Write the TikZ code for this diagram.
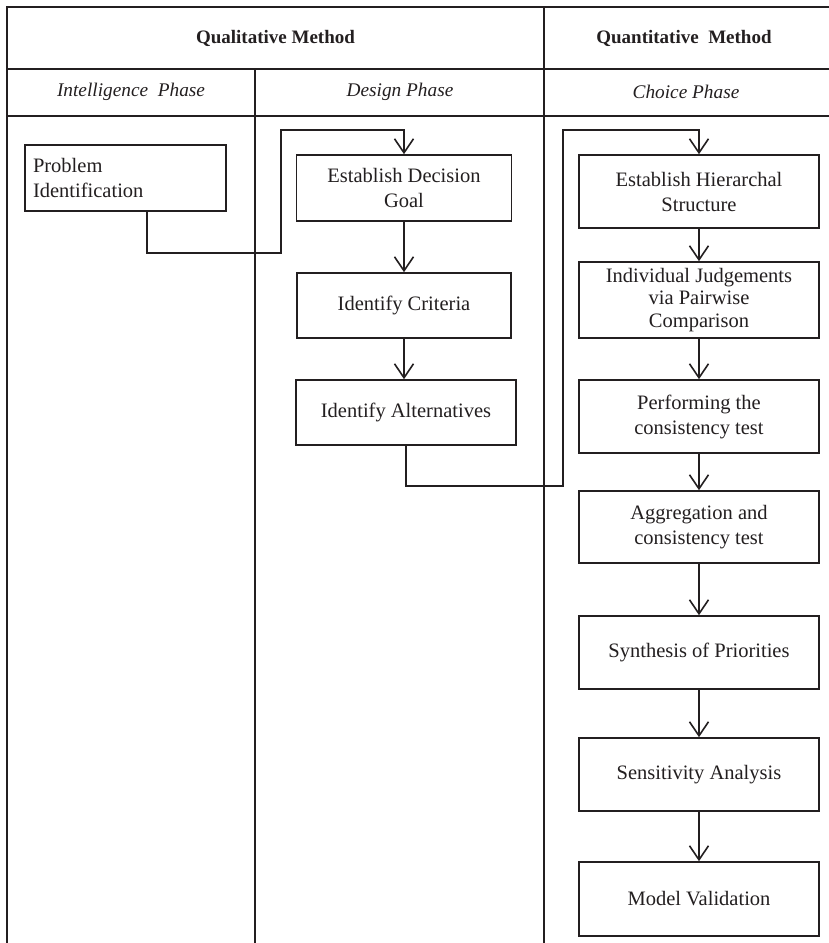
\documentclass[tikz,border=0pt]{standalone}
\usepackage{fontspec}
\setmainfont{Liberation Serif}
\usetikzlibrary{arrows.meta,calc}
\definecolor{ink}{RGB}{35,31,32}
\begin{document}
\begin{tikzpicture}[x=1pt,y=-1pt,
  tbl/.style={line width=2.2pt, draw=ink},
  box/.style={draw=ink, line width=1.6pt, inner sep=0pt, align=center, text=ink,
              font=\fontsize{20.5}{25}\selectfont},
  hdr/.style={text=ink, font=\bfseries\fontsize{19}{22}\selectfont},
  phase/.style={text=ink, font=\itshape\fontsize{19.3}{23}\selectfont},
  conn/.style={line width=1.6pt, draw=ink},
  arr/.style={conn, -{Straight Barb[length=14pt,width=19pt,line width=1.6pt]}},
]
\useasboundingbox (0,0) rectangle (829,943);
\fill[white] (0,0) rectangle (829,943);

% table
\draw[tbl] (829,7) -- (7,7) -- (7,943);
\draw[tbl] (7,69) -- (829,69);
\draw[tbl] (7,116) -- (829,116);
\draw[tbl] (544,7) -- (544,943);
\draw[tbl] (255,69) -- (255,943);

\node[hdr] (hq) at (275.5,38) {Qualitative Method};
\node[hdr] (hn) at (684,38) {Quantitative\ \ Method};
\node[phase] (pi) at (131,92) {Intelligence\ \ Phase};
\node[phase] (pd) at (400,92) {Design Phase};
\node[phase] (pc) at (686,92) {Choice Phase};

% intelligence
\node[box, minimum width=201pt, minimum height=66pt, align=left,
      text width=185pt, inner xsep=8pt] (prob) at (125.5,178)
  {Problem\\Identification};

% design
\node[box, minimum width=215pt, minimum height=66pt] (goal) at (404,188)
  {Establish Decision\\Goal};
\node[box, minimum width=214pt, minimum height=65pt] (crit) at (404,305.5)
  {Identify Criteria};
\node[box, minimum width=220pt, minimum height=65pt] (alt) at (406,412.5)
  {Identify Alternatives};

% choice
\node[box, minimum width=240pt, minimum height=73pt] (hier) at (699,191.5)
  {Establish Hierarchal\\Structure};
\node[box, minimum width=240pt, minimum height=76pt,
      font=\fontsize{20.5}{22.5}\selectfont] (indiv) at (699,300)
  {Individual Judgements\\via Pairwise\\Comparison};
\node[box, minimum width=240pt, minimum height=73pt] (perf) at (699,416.5)
  {Performing the\\consistency test};
\node[box, minimum width=240pt, minimum height=72pt] (aggr) at (699,527)
  {Aggregation and\\consistency test};
\node[box, minimum width=240pt, minimum height=73pt] (synth) at (699,652.5)
  {Synthesis of Priorities};
\node[box, minimum width=240pt, minimum height=73pt] (sens) at (699,774.5)
  {Sensitivity Analysis};
\node[box, minimum width=240pt, minimum height=74pt] (model) at (699,899)
  {Model Validation};

% connectors
\coordinate (p1) at (147,253);
\coordinate (p2) at (281,253);
\coordinate (p3) at (281,130);
\draw[arr] ($(prob.south)+(21.5,0)$) -- (p1) -- (p2) -- (p3) -| (goal.north);
\draw[arr] (goal.south) -- (goal.south |- crit.north);
\draw[arr] (crit.south) -- (crit.south |- alt.north);

\coordinate (q1) at (406,486);
\coordinate (q2) at (563,486);
\coordinate (q3) at (563,130);
\draw[arr] (alt.south) -- (q1) -- (q2) -- (q3) -| (hier.north);

\draw[arr] (hier) -- (indiv);
\draw[arr] (indiv) -- (perf);
\draw[arr] (perf) -- (aggr);
\draw[arr] (aggr) -- (synth);
\draw[arr] (synth) -- (sens);
\draw[arr] (sens) -- (model);
\end{tikzpicture}
\end{document}
